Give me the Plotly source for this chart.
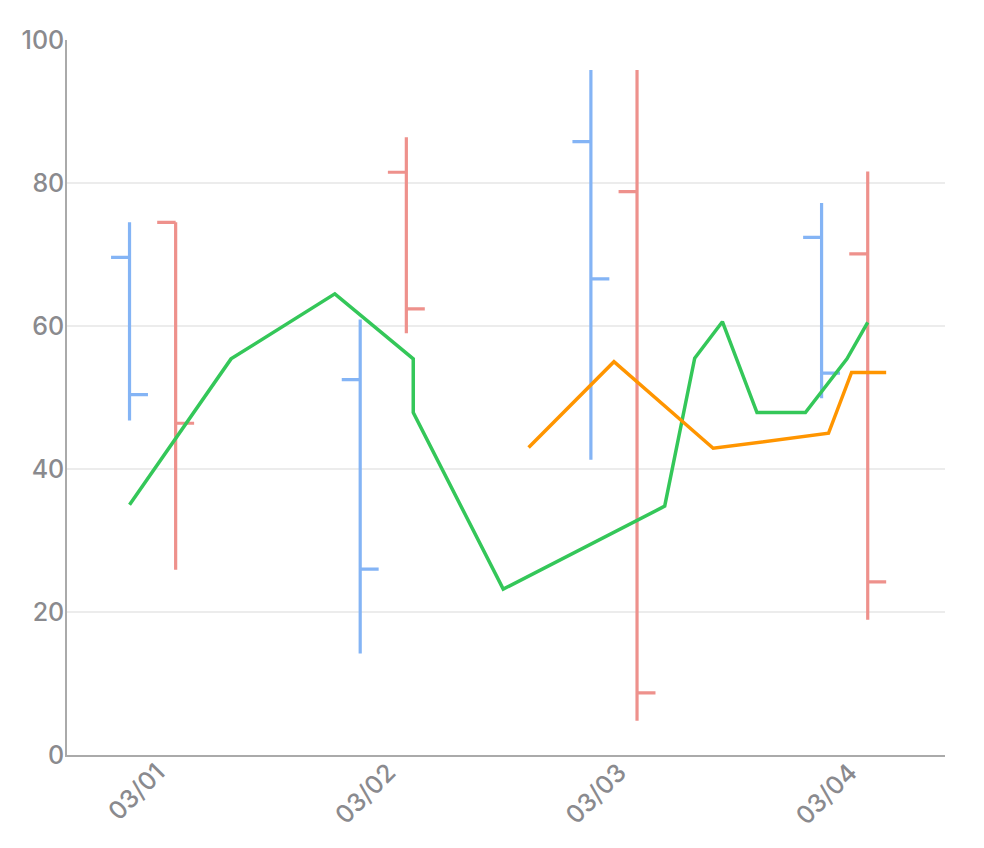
import plotly.graph_objects as go

# categories on the x axis (one per day)
categories = ["03/01", "03/02", "03/03", "03/04"]

# blue OHLC series
blue_open = [69.6, 52.5, 85.8, 72.4]
blue_high = [74.5, 60.9, 95.8, 77.2]
blue_low = [46.8, 14.2, 41.3, 49.9]
blue_close = [50.4, 26.0, 66.6, 53.4]

# red OHLC series
red_open = [74.5, 81.5, 78.8, 70.1]
red_high = [74.5, 86.4, 95.8, 81.6]
red_low = [25.9, 59.0, 4.8, 18.9]
red_close = [46.4, 62.4, 8.7, 24.2]

# green line (x in days from 03/01)
green_x = [-0.10, 0.34, 0.79, 1.13, 1.13, 1.52, 2.22, 2.35, 2.47, 2.62, 2.83, 3.01, 3.10]
green_y = [35.0, 55.4, 64.5, 55.4, 47.9, 23.2, 34.8, 55.5, 60.6, 47.9, 47.9, 55.4, 60.5]

# orange line
orange_x = [1.63, 2.00, 2.43, 2.93, 3.03, 3.18]
orange_y = [43.0, 55.0, 42.9, 45.0, 53.5, 53.5]

BLUE = "#84b4f5"
RED = "#ee918c"
GREEN = "#34c759"
ORANGE = "#ff9500"
TEXT = "#8a8a8e"
offset = 0.1

idx = list(range(len(categories)))

fig = go.Figure()
fig.add_trace(go.Ohlc(
    x=[i - offset for i in idx],
    open=blue_open, high=blue_high, low=blue_low, close=blue_close,
    increasing=dict(line=dict(color=BLUE, width=3.2)),
    decreasing=dict(line=dict(color=BLUE, width=3.2)),
    tickwidth=0.08, name="blue",
))
fig.add_trace(go.Ohlc(
    x=[i + offset for i in idx],
    open=red_open, high=red_high, low=red_low, close=red_close,
    increasing=dict(line=dict(color=RED, width=3.2)),
    decreasing=dict(line=dict(color=RED, width=3.2)),
    tickwidth=0.08, name="red",
))
fig.add_trace(go.Scatter(x=green_x, y=green_y, mode="lines",
                         line=dict(color=GREEN, width=3.5), name="green"))
fig.add_trace(go.Scatter(x=orange_x, y=orange_y, mode="lines",
                         line=dict(color=ORANGE, width=3.5), name="orange"))

# page body adds 8px, so margins are pulled in by that much
fig.update_layout(
    width=984, height=848,
    margin=dict(l=59, r=47, t=32, b=101),
    plot_bgcolor="white", paper_bgcolor="white",
    showlegend=False,
    font=dict(family="Inter", size=25, color=TEXT, weight=500),
)
fig.update_xaxes(
    type="linear", range=[-0.371, 3.435],
    tickvals=idx, ticktext=categories, tickangle=-45,
    showgrid=False, zeroline=False,
    showline=True, linecolor="#aaaaaa", linewidth=1.5,
    ticks="", ticklabelstandoff=-9, ticklabelshift=5,
    rangeslider=dict(visible=False),
)
fig.update_yaxes(
    range=[0, 100], dtick=20,
    showgrid=True, gridcolor="#ececec", gridwidth=1.5,
    zeroline=False, showline=True, linecolor="#aaaaaa", linewidth=1.5,
    ticks="", ticklabelstandoff=-4,
)

fig.write_html("out.html")
